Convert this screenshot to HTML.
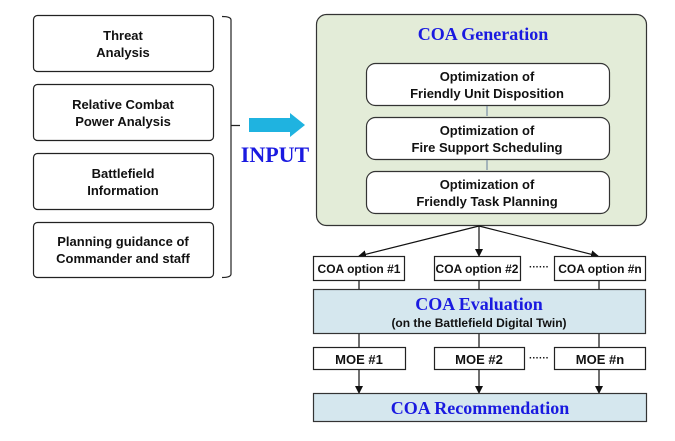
<!DOCTYPE html>
<html><head><meta charset="utf-8"><style>html,body{margin:0;padding:0;background:#fff}svg{display:block}</style></head>
<body>
<svg width="675" height="441" viewBox="0 0 675 441" xmlns="http://www.w3.org/2000/svg">
<defs><marker id="ah" markerWidth="8" markerHeight="8" refX="7" refY="4" orient="auto" markerUnits="userSpaceOnUse"><path d="M0,0 L8,4 L0,8 z" fill="#111"/></marker></defs>
<g font-family="Liberation Sans, sans-serif" font-weight="bold" font-size="13" fill="#111" text-anchor="middle">
<g fill="#fff" stroke="#222" stroke-width="1.2">
<rect x="33.5" y="15.5" width="180" height="56" rx="4"/>
<rect x="33.5" y="84.5" width="180" height="56" rx="4"/>
<rect x="33.5" y="153.5" width="180" height="56" rx="4"/>
<rect x="33.5" y="222.5" width="180" height="55" rx="4"/>
</g>
<text x="123" y="40">Threat</text><text x="123" y="57">Analysis</text>
<text x="123" y="109">Relative Combat</text><text x="123" y="126">Power Analysis</text>
<text x="123" y="178">Battlefield</text><text x="123" y="195">Information</text>
<text x="123" y="246">Planning guidance of</text><text x="123" y="263">Commander and staff</text>
<path d="M222,16.5 Q231,16.5 231,20 L231,274 Q231,277.5 222,277.5 M231,125.5 H240" fill="none" stroke="#222" stroke-width="1.2"/>
<path d="M249,118 H290 V113 L305,125 L290,137 V132 H249 z" fill="#1fb3e0"/>
<text x="275" y="162" font-family="Liberation Serif, serif" font-size="22" fill="#1a1ae0">INPUT</text>
<rect x="316.5" y="14.5" width="330" height="211" rx="10" fill="#e3ecd8" stroke="#333" stroke-width="1.2"/>
<text x="483" y="40" font-family="Liberation Serif, serif" font-size="18" fill="#1a1ae0">COA Generation</text>
<g fill="#fff" stroke="#333" stroke-width="1.2">
<rect x="366.5" y="63.5" width="243" height="42" rx="9"/>
<rect x="366.5" y="117.5" width="243" height="42" rx="9"/>
<rect x="366.5" y="171.5" width="243" height="42" rx="9"/>
</g>
<path d="M487,106 V116 M487,160 V170" stroke="#7a8fa6" stroke-width="1.2"/>
<text x="487" y="81">Optimization of</text><text x="487" y="98">Friendly Unit Disposition</text>
<text x="487" y="135">Optimization of</text><text x="487" y="152">Fire Support Scheduling</text>
<text x="487" y="189">Optimization of</text><text x="487" y="206">Friendly Task Planning</text>
<g stroke="#111" stroke-width="1.2" fill="none" marker-end="url(#ah)">
<line x1="479" y1="226" x2="359" y2="256"/>
<line x1="479" y1="226" x2="479" y2="256"/>
<line x1="479" y1="226" x2="598" y2="256"/>
<line x1="359" y1="369" x2="359" y2="393"/>
<line x1="479" y1="369" x2="479" y2="393"/>
<line x1="599" y1="369" x2="599" y2="393"/>
</g>
<g stroke="#111" stroke-width="1.2">
<line x1="359" y1="280" x2="359" y2="289"/><line x1="479" y1="280" x2="479" y2="289"/><line x1="599" y1="280" x2="599" y2="289"/>
<line x1="359" y1="333" x2="359" y2="347"/><line x1="479" y1="333" x2="479" y2="347"/><line x1="599" y1="333" x2="599" y2="347"/>
</g>
<g fill="#fff" stroke="#222" stroke-width="1.2">
<rect x="313.5" y="256.5" width="91" height="24"/>
<rect x="434.5" y="256.5" width="86" height="24"/>
<rect x="554.5" y="256.5" width="91" height="24"/>
<rect x="313.5" y="347.5" width="92" height="22"/>
<rect x="434.5" y="347.5" width="90" height="22"/>
<rect x="554.5" y="347.5" width="91" height="22"/>
</g>
<g font-size="12"><text x="359" y="273">COA option #1</text><text x="477" y="273">COA option #2</text><text x="600" y="273">COA option #n</text></g>
<text x="539" y="270" font-size="10">······</text><text x="539" y="361" font-size="10">······</text>
<text x="359" y="364">MOE #1</text><text x="479" y="364">MOE #2</text><text x="600" y="364">MOE #n</text>
<rect x="313.5" y="289.5" width="332" height="44" fill="#d5e7ee" stroke="#333" stroke-width="1.2"/>
<text x="479" y="310" font-family="Liberation Serif, serif" font-size="18" fill="#1a1ae0">COA Evaluation</text>
<text x="479" y="327" font-size="12">(on the Battlefield Digital Twin)</text>
<rect x="313.5" y="393.5" width="333" height="28" fill="#d5e7ee" stroke="#333" stroke-width="1.2"/>
<text x="480" y="414" font-family="Liberation Serif, serif" font-size="18" fill="#1a1ae0">COA Recommendation</text>
</g>
</svg>
</body></html>
